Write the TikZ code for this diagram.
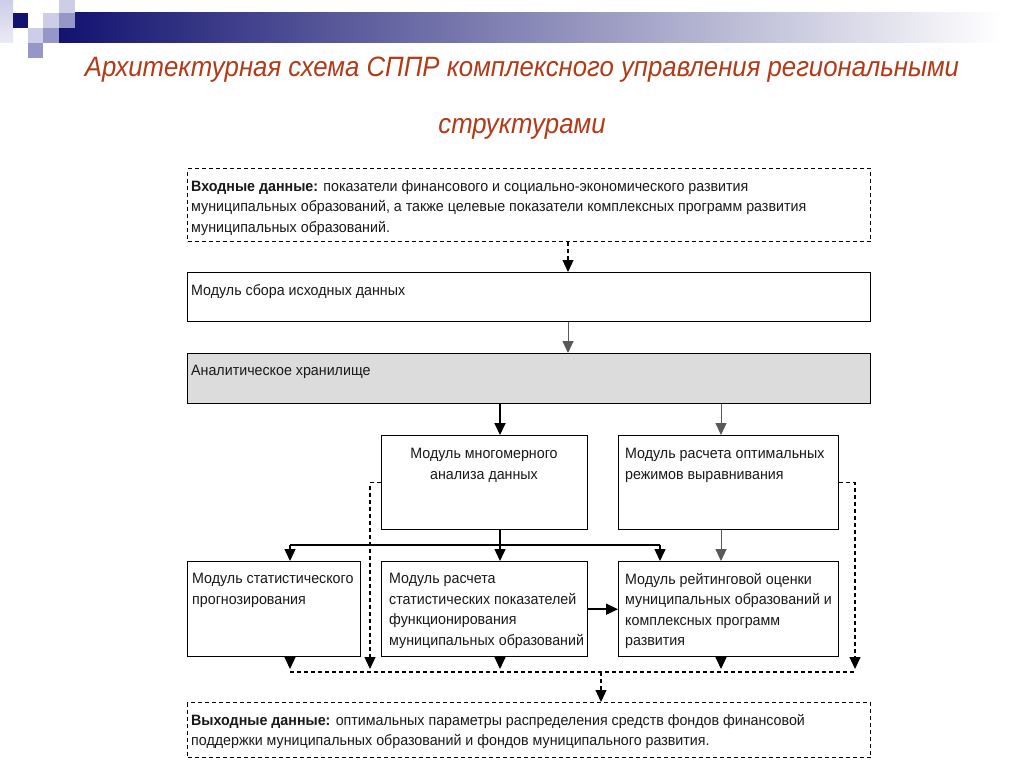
\documentclass[tikz,border=0pt]{standalone}
\usepackage{fontspec}
\usetikzlibrary{arrows.meta,calc}
\newfontfamily\boxfont{Liberation Sans}[FakeStretch=0.95]
\newfontfamily\titlefont{Liberation Sans}[FakeStretch=0.92]
\definecolor{titlered}{RGB}{178,58,22}
\definecolor{navy}{RGB}{18,18,112}
\definecolor{lav}{RGB}{205,205,232}
\definecolor{midlav}{RGB}{150,150,200}
\definecolor{txt}{RGB}{25,25,25}
\definecolor{fillgray}{RGB}{220,220,220}
\tikzset{
  mbox/.style={draw, line width=1.4pt, inner sep=0pt, anchor=north west},
  dbox/.style={draw, line width=1.2pt, dash pattern=on 4pt off 3pt, inner sep=0pt, anchor=north west},
  btext/.style={font=\boxfont\fontsize{15}{20.5}\selectfont, text=txt, inner sep=0pt, anchor=north west, align=left},
  tip/.style={-{Triangle[length=12pt,width=11pt]}},
  thinline/.style={draw=black!65, line width=0.9pt},
  thickline/.style={draw=black, line width=1.8pt},
  dline/.style={draw=black, line width=1.2pt, dash pattern=on 4pt off 3pt},
  titletext/.style={font=\titlefont\itshape\fontsize{28}{32}\selectfont, text=titlered, inner sep=0pt}
}
\begin{document}
\begin{tikzpicture}[x=1pt,y=-1pt]
\useasboundingbox (0,0) rectangle (1024,767);
\fill[white] (0,0) rectangle (1024,767);
% header decoration
\shade[left color=navy, right color=white] (59,13) rectangle (1000,43);
\shade[top color=lav, bottom color=lav!40] (0,0) rectangle (13,43);
\fill[navy] (13,13) rectangle (28,28);
\fill[lav] (28,28) rectangle (43,43);
\fill[midlav] (28,43) rectangle (43,58);
\fill[lav] (43,13) rectangle (59,28);
\fill[midlav] (43,28) rectangle (59,43);
\fill[lav] (59,0) rectangle (75,13);
\fill[midlav] (59,13) rectangle (75,28);
% title
\node[titletext] (t1) at (522,70) {Архитектурная схема СППР комплексного управления региональными};
\node[titletext] (t2) at (522,129) {структурами};
% boxes
\node[dbox, minimum width=683pt, minimum height=73pt] (inp) at (187,168) {};
\node[mbox, minimum width=683pt, minimum height=49pt] (sbor) at (187,272) {};
\node[mbox, fill=fillgray, minimum width=683pt, minimum height=50pt] (anal) at (187,353) {};
\node[mbox, minimum width=206pt, minimum height=94pt] (mnog) at (381,435) {};
\node[mbox, minimum width=220pt, minimum height=94pt] (opt) at (618,435) {};
\node[mbox, minimum width=173pt, minimum height=95pt] (stat) at (187,561) {};
\node[mbox, minimum width=206pt, minimum height=95pt] (rasch) at (381,561) {};
\node[mbox, minimum width=220pt, minimum height=95pt] (reit) at (618,561) {};
\node[dbox, minimum width=683pt, minimum height=55pt] (out) at (187,702) {};
% texts
\node[btext] (inpt) at (191,180) {\textbf{Входные данные:} показатели финансового и социально-экономического развития\\муниципальных образований, а также целевые показатели комплексных программ развития\\муниципальных образований.};
\node[btext] (sbort) at (191,284) {Модуль сбора исходных данных};
\node[btext] (analt) at (191,365) {Аналитическое хранилище};
\node[btext, anchor=north, align=center] (mnogt) at (484,448) {Модуль многомерного\\анализа данных};
\node[btext] (optt) at (625,448) {Модуль расчета оптимальных\\режимов выравнивания};
\node[btext] (statt) at (192,573) {Модуль статистического\\прогнозирования};
\node[btext] (rascht) at (389,573) {Модуль расчета\\статистических показателей\\функционирования\\муниципальных образований};
\node[btext] (reitt) at (625,573) {Модуль рейтинговой оценки\\муниципальных образований и\\комплексных программ\\развития};
\node[btext] (outt) at (191,714) {\textbf{Выходные данные:} оптимальных параметры распределения средств фондов финансовой\\поддержки муниципальных образований и фондов муниципального развития.};
% helper coordinates
\coordinate (xIn) at (568,0);
\coordinate (xA) at (500,0);
\coordinate (xB) at (721,0);
\coordinate (jL) at (290,545);
\coordinate (jM) at (500,545);
\coordinate (jR) at (660,545);
\coordinate (dL) at (370,669);
\coordinate (dR) at (855,669);
\coordinate (bL) at (290,672);
\coordinate (bR) at (855,672);
\coordinate (bM) at (601,672);
% connectors
\draw[dline, tip] (inp.south -| xIn) -- (sbor.north -| xIn);
\draw[thinline, tip] (sbor.south -| xIn) -- (anal.north -| xIn);
\draw[thickline, tip] (anal.south -| xA) -- (mnog.north -| xA);
\draw[thinline, tip] (anal.south -| xB) -- (opt.north -| xB);
\draw[thickline] (mnog.south -| xA) -- (jM);
\draw[line width=1.4pt] (jL) -- (jR);
\draw[line width=1.4pt, tip] (jL) -- (stat.north -| jL);
\draw[line width=1.4pt, tip] (jM) -- (rasch.north -| jM);
\draw[line width=1.4pt, tip] (jR) -- (reit.north -| jR);
\draw[thinline, tip] (opt.south -| xB) -- (reit.north -| xB);
\draw[thickline, tip] (rasch.east) -- (reit.west);
\draw[line width=1.3pt, tip] (stat.south -| jL) -- (jL |- dL);
\draw[line width=1.3pt, tip] (rasch.south -| xA) -- (xA |- dL);
\draw[line width=1.3pt, tip] (reit.south -| xB) -- (xB |- dL);
\draw[dline, tip] (mnog.west) -| (dL);
\draw[dline, tip] (opt.east) -| (dR);
\draw[dline] (bL) -- (bR);
\draw[dline, tip] (bM) -- (out.north -| bM);
\end{tikzpicture}
\end{document}
